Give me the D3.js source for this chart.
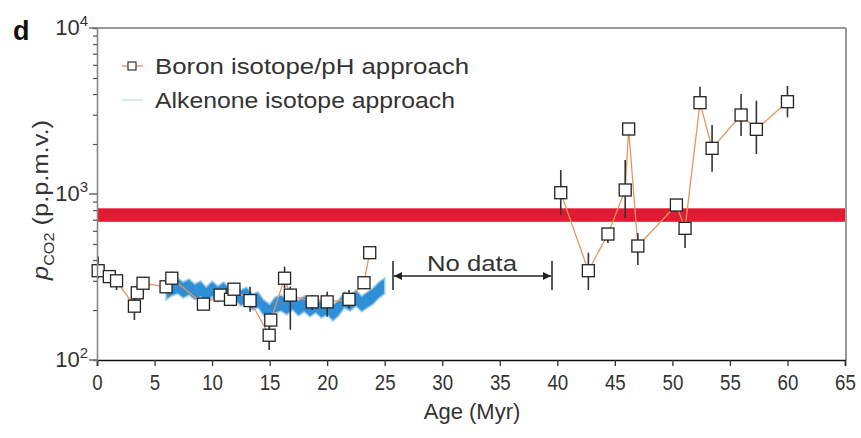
<!DOCTYPE html>
<html>
<head>
<meta charset="utf-8">
<script src="https://cdn.jsdelivr.net/npm/d3@7"></script>
<style>
  body { margin: 0; background: #fff; }
  svg { display: block; font-family: "Liberation Sans", Arial, sans-serif; }
</style>
</head>
<body>
<div id="chart"></div>
<script>
// Boron isotope / pH estimates (age in Myr, pCO2 in p.p.m.v.)
const boronAge = [0.1, 1.07, 1.7, 3.25, 3.5, 4.0, 6.0, 6.5, 9.25, 10.7, 11.6, 11.9, 13.3, 14.96, 15.1, 16.3, 16.8, 18.7, 20.0, 21.9, 23.2, 23.7,
  40.3, 42.7, 44.4, 45.9, 46.2, 47.0, 50.35, 51.1, 52.4, 53.45, 55.97, 57.3, 60.0];
const boronCO2 = [345, 318, 300, 211, 254, 290, 276, 311, 217, 246, 232, 267, 228, 141, 174, 311, 246, 224, 224, 232, 292, 443,
  1018, 345, 574, 1057, 2464, 486, 858, 621, 3548, 1884, 2992, 2453, 3597];
const boronLow = [310, 300, 264, 174, 240, 280, 260, 283, 208, 235, 214, 255, 195, 115, 165, 270, 152, 200, 182, 206, 285, 420,
  747, 264, 507, 717, 2350, 373, 820, 473, 3296, 1362, 2236, 1741, 2897];
const boronHigh = [420, 335, 318, 264, 270, 300, 295, 340, 226, 258, 246, 280, 276, 159, 185, 365, 277, 246, 258, 264, 300, 482,
  1395, 443, 607, 1603, 2580, 582, 900, 669, 4430, 2604, 4000, 3648, 4474];
// the two runs of boron points that are joined by a line
const boronRuns = [[0, 22], [22, 35]];

// Alkenone isotope band (lower / upper edge)
const alkAge = [6.0, 6.5, 7.0, 7.5, 8.0, 8.5, 9.0, 9.5, 10.0, 10.5, 11.0, 11.5, 12.0, 12.5, 13.0, 13.5, 14.0, 14.5, 15.0, 15.5,
  16.0, 16.5, 17.0, 17.5, 18.0, 18.5, 19.0, 19.5, 20.0, 20.5, 21.0, 21.5, 22.0, 22.5, 23.0, 23.5, 24.0, 24.5, 25.0];
const alkLow = [230, 243, 250, 236, 246, 230, 240, 220, 240, 224, 236, 217, 230, 211, 220, 200, 206, 184, 174, 192,
  197, 187, 200, 184, 195, 182, 192, 179, 187, 172, 184, 206, 197, 211, 195, 206, 217, 236, 250];
const alkHigh = [287, 303, 312, 295, 308, 287, 299, 275, 299, 279, 295, 272, 287, 264, 275, 250, 257, 230, 217, 240,
  246, 233, 250, 230, 243, 227, 240, 224, 233, 215, 230, 257, 246, 264, 243, 257, 272, 295, 312];

// present-day-like reference band
const bandCO2 = [680, 820];

const xTicks = d3.range(0, 66, 5);
const yMajor = [100, 1000, 10000];
const yMinor = [200, 300, 400, 500, 600, 700, 800, 900, 2000, 3000, 4000, 5000, 6000, 7000, 8000, 9000];

const width = 861, height = 438;
const margin = { top: 28, right: 15, bottom: 78, left: 97 };

const svg = d3.select('#chart').append('svg')
  .attr('width', width)
  .attr('height', height);

const x = d3.scaleLinear().domain([0, 65]).range([margin.left, width - margin.right - 1]);
const y = d3.scaleLog().domain([100, 10000]).range([height - margin.bottom, margin.top]);

const x0 = x(0), x1 = x(65), yTop = y(10000), yBot = y(100);

// Red band
svg.append('rect')
  .attr('x', x0)
  .attr('y', y(bandCO2[1]))
  .attr('width', x1 - x0)
  .attr('height', y(bandCO2[0]) - y(bandCO2[1]))
  .attr('fill', '#e01b33');

// Alkenone band
const alkData = alkAge.map((a, i) => ({ a, lo: alkLow[i], hi: alkHigh[i] }));
svg.append('path')
  .datum(alkData)
  .attr('d', d3.area().x(d => x(d.a)).y0(d => y(d.lo)).y1(d => y(d.hi)))
  .attr('fill', '#2e8fd6')
  .attr('stroke', '#9cc9ea')
  .attr('stroke-width', 1.5);

// Boron line
const line = d3.line().x(i => x(boronAge[i])).y(i => y(boronCO2[i]));
boronRuns.forEach(([s, e]) => {
  svg.append('path')
    .attr('d', line(d3.range(s, e)))
    .attr('fill', 'none')
    .attr('stroke', '#e8955f')
    .attr('stroke-width', 1.3);
});

// Error bars
svg.append('g').selectAll('line')
  .data(boronAge)
  .enter()
  .append('line')
  .attr('x1', d => x(d))
  .attr('x2', d => x(d))
  .attr('y1', (d, i) => y(boronLow[i]))
  .attr('y2', (d, i) => y(boronHigh[i]))
  .attr('stroke', '#333')
  .attr('stroke-width', 1.6);

// Squares
const sq = 12;
svg.append('g').selectAll('rect')
  .data(boronAge)
  .enter()
  .append('rect')
  .attr('x', d => x(d) - sq / 2)
  .attr('y', (d, i) => y(boronCO2[i]) - sq / 2)
  .attr('width', sq)
  .attr('height', sq)
  .attr('fill', '#fff')
  .attr('stroke', '#222')
  .attr('stroke-width', 1.3);

// Frame: top & right gray
svg.append('line').attr('x1', x0).attr('x2', x1 + 1).attr('y1', yTop).attr('y2', yTop)
  .attr('stroke', '#9a9a9a').attr('stroke-width', 2);
svg.append('line').attr('x1', x1 + 1).attr('x2', x1 + 1).attr('y1', yTop).attr('y2', yBot)
  .attr('stroke', '#9a9a9a').attr('stroke-width', 2);

// X axis
const xAxis = svg.append('g')
  .attr('transform', `translate(0,${yBot})`)
  .call(d3.axisBottom(x).tickValues(xTicks).tickSize(6).tickPadding(8).tickFormat(d3.format('d')));
xAxis.select('.domain').attr('stroke', '#111').attr('stroke-width', 1.6);
xAxis.selectAll('.tick line').attr('stroke', '#333').attr('stroke-width', 1.3);
xAxis.selectAll('.tick text')
  .attr('font-size', '22px')
  .attr('fill', '#333')
  .attr('font-family', '"Liberation Sans", Arial, sans-serif')
  .attr('transform', 'scale(0.85,1)');

// Y axis (minor ticks)
const yAxis = svg.append('g')
  .attr('transform', `translate(${x0},0)`)
  .call(d3.axisLeft(y).tickValues(yMinor).tickSize(4).tickFormat(''));
yAxis.select('.domain').attr('stroke', '#888').attr('stroke-width', 1.6);
yAxis.selectAll('.tick line').attr('stroke', '#555').attr('stroke-width', 1.2);

// Y axis major ticks + labels
const major = svg.append('g');
yMajor.forEach(v => {
  const yy = y(v);
  major.append('line')
    .attr('x1', x0 - 8).attr('x2', x0).attr('y1', yy).attr('y2', yy)
    .attr('stroke', '#555').attr('stroke-width', 1.3);
  const t = major.append('text')
    .attr('x', x0 - 9)
    .attr('y', yy + 7)
    .attr('text-anchor', 'end')
    .attr('font-size', '22px')
    .attr('fill', '#333');
  t.append('tspan').text('10');
  t.append('tspan').attr('font-size', '15px').attr('dy', -9).text(Math.round(Math.log10(v)));
});

// Panel letter
svg.append('text')
  .attr('x', 13).attr('y', 40)
  .attr('font-size', '27px')
  .attr('font-weight', 'bold')
  .attr('fill', '#111')
  .text('d');

// Y label
const yl = svg.append('text')
  .attr('transform', `translate(48,${(yTop + yBot) / 2 + 6}) rotate(-90)`)
  .attr('text-anchor', 'middle')
  .attr('font-size', '22px')
  .attr('fill', '#333')
  .attr('textLength', 160).attr('lengthAdjust', 'spacingAndGlyphs');
yl.append('tspan').attr('font-style', 'italic').text('p');
yl.append('tspan').attr('font-size', '14px').attr('dy', 6).text('CO2');
yl.append('tspan').attr('dy', -6).text(' (p.p.m.v.)');

// X label
svg.append('text')
  .attr('x', 472).attr('y', 419)
  .attr('text-anchor', 'middle')
  .attr('font-size', '22px')
  .attr('fill', '#333')
  .text('Age (Myr)');

// Legend
const lg = svg.append('g');
lg.append('line').attr('x1', 122).attr('x2', 143).attr('y1', 66).attr('y2', 66)
  .attr('stroke', '#e8955f').attr('stroke-width', 1.3);
lg.append('rect').attr('x', 128).attr('y', 62).attr('width', 8).attr('height', 8)
  .attr('fill', '#fff').attr('stroke', '#333').attr('stroke-width', 1.2);
lg.append('text').attr('x', 155).attr('y', 74).attr('font-size', '22px').attr('fill', '#333')
  .attr('textLength', 314).attr('lengthAdjust', 'spacingAndGlyphs')
  .text('Boron isotope/pH approach');
lg.append('line').attr('x1', 122).attr('x2', 143).attr('y1', 100).attr('y2', 100)
  .attr('stroke', '#cfe7ee').attr('stroke-width', 1.5);
lg.append('text').attr('x', 155).attr('y', 108).attr('font-size', '22px').attr('fill', '#333')
  .attr('textLength', 300).attr('lengthAdjust', 'spacingAndGlyphs')
  .text('Alkenone isotope approach');

// No data annotation
const nd = svg.append('g');
const ndY = 276, ndL = 393, ndR = 552;
svg.append('defs').html(
  '<marker id="ah" viewBox="0 0 10 10" refX="10" refY="5" markerWidth="10" markerHeight="8" orient="auto-start-reverse" markerUnits="userSpaceOnUse">' +
  '<path d="M0,0 L10,5 L0,10 z" fill="#222"/></marker>');
nd.append('line').attr('x1', ndL + 1).attr('x2', ndR - 1).attr('y1', ndY).attr('y2', ndY)
  .attr('stroke', '#222').attr('stroke-width', 1.3)
  .attr('marker-start', 'url(#ah)').attr('marker-end', 'url(#ah)');
[ndL, ndR].forEach(xx => {
  nd.append('line').attr('x1', xx).attr('x2', xx).attr('y1', 261).attr('y2', 290)
    .attr('stroke', '#222').attr('stroke-width', 1.5);
});
nd.append('text').attr('x', 472).attr('y', 271).attr('text-anchor', 'middle')
  .attr('font-size', '22px').attr('fill', '#333')
  .attr('textLength', 90).attr('lengthAdjust', 'spacingAndGlyphs')
  .text('No data');
</script>
</body>
</html>
